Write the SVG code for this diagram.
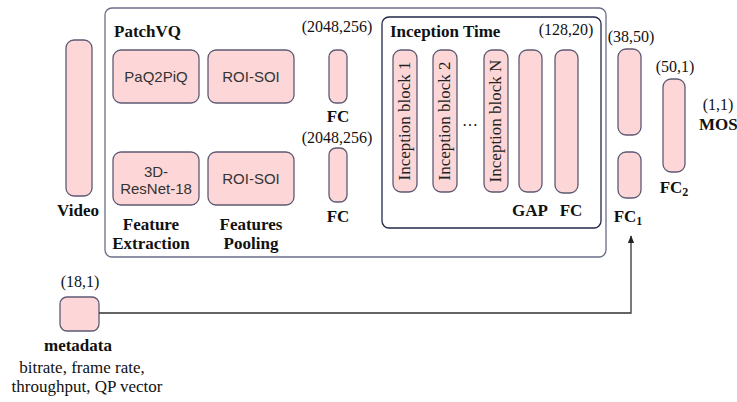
<svg xmlns="http://www.w3.org/2000/svg" width="737" height="402" viewBox="0 0 737 402">
<defs>
<style>
.blk{fill:#fdd7d7;stroke:#5e5a74;stroke-width:1.3}
.serif{font-family:"Liberation Serif","Times New Roman",serif;fill:#111}
.b{font-weight:bold;font-size:17px}
.num{font-size:16px}
.sans{font-family:"Liberation Sans",Arial,sans-serif;font-size:15px;fill:#333}
.vt{font-family:"Liberation Serif","Times New Roman",serif;font-size:17px;fill:#222}
.mid{text-anchor:middle}
.conn{fill:none;stroke:#333;stroke-width:1.3}
</style>
<marker id="arr" viewBox="0 0 10 10" refX="9" refY="5" markerWidth="6" markerHeight="6" orient="auto">
<path d="M0,1 L10,5 L0,9 z" fill="#222"/>
</marker>
</defs>
<rect width="737" height="402" fill="#fff"/>

<g id="patchvq">
<rect x="105" y="8" width="501" height="249" rx="7" fill="none" stroke="#6b6e86" stroke-width="1.3"/>
<text class="serif b" x="114" y="37">PatchVQ</text>
</g>

<g id="video">
<rect class="blk" x="66" y="40" width="26" height="156" rx="8"/>
<text class="serif b mid" x="78" y="216">Video</text>
</g>

<g id="paq2piq">
<rect class="blk" x="113" y="50" width="86" height="53" rx="8"/>
<text class="sans mid" x="156" y="82">PaQ2PiQ</text>
</g>
<g id="roisoi1">
<rect class="blk" x="208" y="50" width="86" height="53" rx="8"/>
<text class="sans mid" x="251" y="82">ROI-SOI</text>
</g>
<g id="resnet">
<rect class="blk" x="113" y="152" width="86" height="53" rx="8"/>
<text class="sans mid" x="156" y="177">3D-</text>
<text class="sans mid" x="156" y="194">ResNet-18</text>
</g>
<g id="roisoi2">
<rect class="blk" x="208" y="152" width="86" height="53" rx="8"/>
<text class="sans mid" x="251" y="184">ROI-SOI</text>
</g>
<g id="labels-fe">
<text class="serif b mid" x="151" y="230">Feature</text>
<text class="serif b mid" x="151" y="249">Extraction</text>
<text class="serif b mid" x="251" y="230">Features</text>
<text class="serif b mid" x="251" y="249">Pooling</text>
</g>

<g id="fc-top">
<text class="serif num mid" x="337" y="32">(2048,256)</text>
<rect class="blk" x="329" y="50" width="18" height="53" rx="7"/>
<text class="serif b mid" x="338" y="122">FC</text>
</g>
<g id="fc-bottom">
<text class="serif num mid" x="337" y="143">(2048,256)</text>
<rect class="blk" x="329" y="148" width="18" height="54" rx="7"/>
<text class="serif b mid" x="338" y="222">FC</text>
</g>

<g id="inception">
<rect x="382" y="17" width="219" height="211" rx="7" fill="none" stroke="#22284a" stroke-width="1.3"/>
<text class="serif b" x="390" y="37">Inception Time</text>
<text class="serif num mid" x="566" y="35">(128,20)</text>
</g>
<g id="iblock1">
<rect class="blk" x="393" y="50" width="24" height="142" rx="8"/>
<text class="vt mid" transform="translate(405,121) rotate(-90)" x="0" y="5">Inception block 1</text>
</g>
<g id="iblock2">
<rect class="blk" x="433" y="50" width="24" height="142" rx="8"/>
<text class="vt mid" transform="translate(445,121) rotate(-90)" x="0" y="5">Inception block 2</text>
</g>
<text class="serif mid" x="470" y="126" font-size="16">…</text>
<g id="iblockN">
<rect class="blk" x="484" y="50" width="24" height="142" rx="8"/>
<text class="vt mid" transform="translate(496,121) rotate(-90)" x="0" y="5">Inception block N</text>
</g>
<g id="gap">
<rect class="blk" x="519" y="50" width="23" height="142" rx="8"/>
<text class="serif b mid" x="530" y="216">GAP</text>
</g>
<g id="fc-inc">
<rect class="blk" x="555" y="50" width="23" height="143" rx="8"/>
<text class="serif b mid" x="571" y="216">FC</text>
</g>

<g id="fc1">
<text class="serif num mid" x="631" y="42">(38,50)</text>
<rect class="blk" x="618" y="49" width="23" height="86" rx="8"/>
<rect class="blk" x="618" y="152" width="23" height="46" rx="8"/>
<text class="serif b mid" x="628" y="222">FC<tspan font-size="12" dy="3">1</tspan></text>
</g>
<g id="fc2">
<text class="serif num mid" x="675" y="72">(50,1)</text>
<rect class="blk" x="663" y="79" width="22" height="93" rx="8"/>
<text class="serif b mid" x="674" y="193">FC<tspan font-size="12" dy="3">2</tspan></text>
</g>
<g id="mos">
<text class="serif num mid" x="718" y="110">(1,1)</text>
<text class="serif b" x="699" y="130">MOS</text>
</g>

<g id="metadata">
<text class="serif num mid" x="80" y="287">(18,1)</text>
<rect class="blk" x="60" y="297" width="39" height="34" rx="7"/>
<text class="serif b mid" x="78" y="351">metadata</text>
<text class="serif mid" x="82" y="373" font-size="17">bitrate, frame rate,</text>
<text class="serif mid" x="87" y="392" font-size="17">throughput, QP vector</text>
</g>

<g id="connectors">
<path class="conn" d="M99,313 H631 V236" marker-end="url(#arr)"/>
</g>
</svg>
